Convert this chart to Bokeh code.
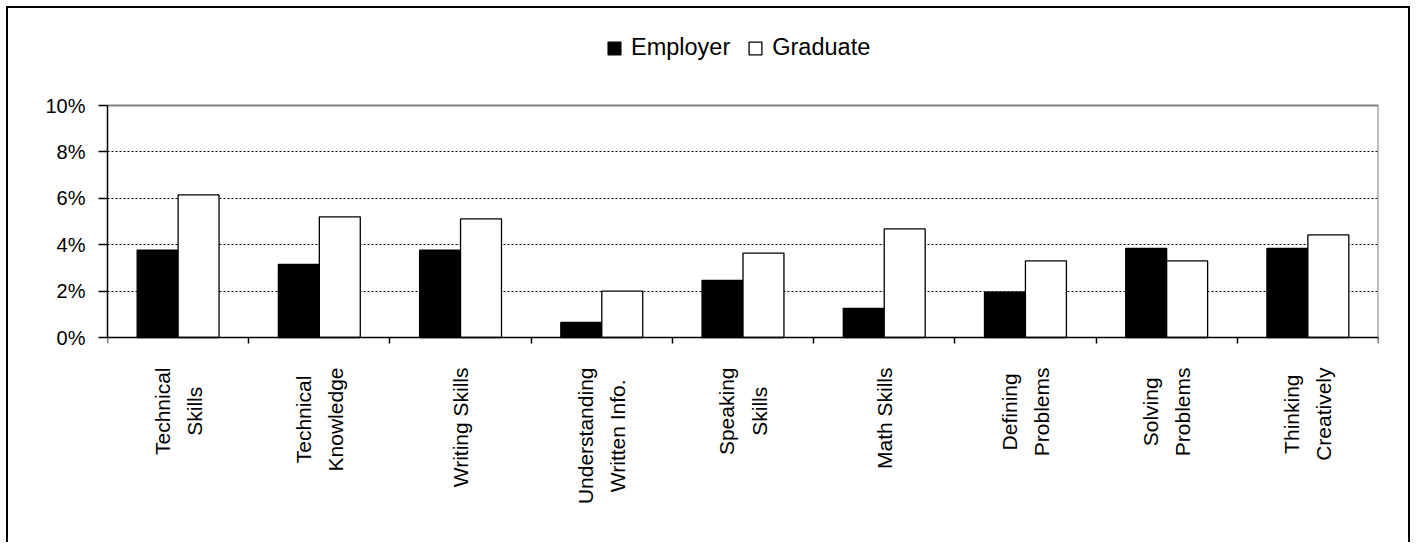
import math
from bokeh.plotting import figure
from bokeh.models import Range1d, FixedTicker, PrintfTickFormatter, Legend, LegendItem
from bokeh.core.properties import value
from bokeh.embed import file_html
from bokeh.resources import INLINE

categories = ["Technical\nSkills", "Technical\nKnowledge", "Writing Skills",
              "Understanding\nWritten Info.", "Speaking\nSkills", "Math Skills",
              "Defining\nProblems", "Solving\nProblems", "Thinking\nCreatively"]
employer = [3.76, 3.15, 3.76, 0.65, 2.46, 1.25, 1.96, 3.84, 3.84]
graduate = [6.15, 5.20, 5.11, 2.00, 3.64, 4.68, 3.30, 3.30, 4.42]
y_ticks = [0, 2, 4, 6, 8, 10]
series_names = ["Employer", "Graduate"]

FONT = "Liberation Sans"
n = len(categories)
centers = [i + 0.5 for i in range(n)]
bar_w = 0.29
y_max = y_ticks[-1]

# canvas geometry (px)
W, H = 1404, 536
TOP, BOTTOM = 17, 6          # frame top / bottom borders
ZERO_Y = 329                 # canvas y of the 0% line
PX_PER_UNIT = 23.2           # pixels per 1 percentage point
frame_bottom = H - BOTTOM

p = figure(width=W, height=H, output_backend="svg", toolbar_location=None,
           x_range=Range1d(0, n),
           y_range=Range1d(-(frame_bottom - ZERO_Y) / PX_PER_UNIT, (ZERO_Y - TOP) / PX_PER_UNIT),
           min_border_left=99, min_border_right=34, min_border_top=TOP, min_border_bottom=BOTTOM)
p.styles = {"border-style": "solid", "border-color": "black",
            "border-width": "2px 2px 0 2px", "margin": "6px 0 0 6px"}

r1 = p.vbar(x=[c - bar_w / 2 for c in centers], top=employer, width=bar_w,
            fill_color="black", line_color="black", line_width=1.3)
r2 = p.vbar(x=[c + bar_w / 2 for c in centers], top=graduate, width=bar_w,
            fill_color="white", line_color="black", line_width=1.3)

# gray top and right edges of the plot area
p.segment(x0=[0, n], y0=[y_max, 0], x1=[n, n], y1=[y_max, y_max],
          line_color="#808080", line_width=2)

# category labels: vertical, lines centred, block hanging below the axis
label_y = -30 / PX_PER_UNIT
p.text(x=centers, y=[label_y] * n, text=categories, angle=math.pi / 2,
       text_align="center", anchor=value("center_right"), text_line_height=1.4,
       text_font=value(FONT), text_font_size=value("21px"), text_color="black")

legend = Legend(items=[LegendItem(label=series_names[0], renderers=[r1]),
                       LegendItem(label=series_names[1], renderers=[r2])],
                orientation="horizontal", location=(499, frame_bottom - 53))
legend.padding = 0
legend.margin = 0
legend.border_line_color = None
legend.background_fill_alpha = 0
legend.glyph_width = 16
legend.glyph_height = 16
legend.label_height = 20
legend.label_standoff = 9
legend.spacing = 17
legend.label_text_font = FONT
legend.label_text_font_size = "23.5px"
legend.label_text_color = "black"
p.add_layout(legend)

# y axis
p.yaxis.ticker = FixedTicker(ticks=y_ticks)
p.yaxis.bounds = (0, y_max)
p.yaxis.formatter = PrintfTickFormatter(format="%d%%")
p.yaxis.axis_line_color = "black"
p.yaxis.axis_line_width = 1.5
p.yaxis.major_tick_line_color = "black"
p.yaxis.major_tick_line_width = 1.5
p.yaxis.major_tick_out = 9
p.yaxis.major_tick_in = 0
p.yaxis.minor_tick_line_color = None
p.yaxis.major_label_standoff = 13
p.yaxis.major_label_text_font = FONT
p.yaxis.major_label_text_font_size = "20px"
p.yaxis.major_label_text_color = "black"

# x axis: drawn at the 0% line, ticks at category boundaries
p.xaxis.fixed_location = 0
p.xaxis.ticker = FixedTicker(ticks=[], minor_ticks=list(range(n + 1)))
p.xaxis.axis_line_color = "black"
p.xaxis.axis_line_width = 1.5
p.xaxis.major_tick_line_color = None
p.xaxis.major_label_text_font_size = "0px"
p.xaxis.minor_tick_line_color = "black"
p.xaxis.minor_tick_line_width = 1.5
p.xaxis.minor_tick_out = 6
p.xaxis.minor_tick_in = 0

p.xgrid.visible = False
p.ygrid.ticker = FixedTicker(ticks=y_ticks[1:-1])
p.ygrid.grid_line_color = "black"
p.ygrid.grid_line_dash = "2 2"
p.ygrid.grid_line_width = 1

p.outline_line_color = None
p.background_fill_color = "white"
p.border_fill_color = "white"

open("out.html", "w").write(file_html(p, INLINE))
